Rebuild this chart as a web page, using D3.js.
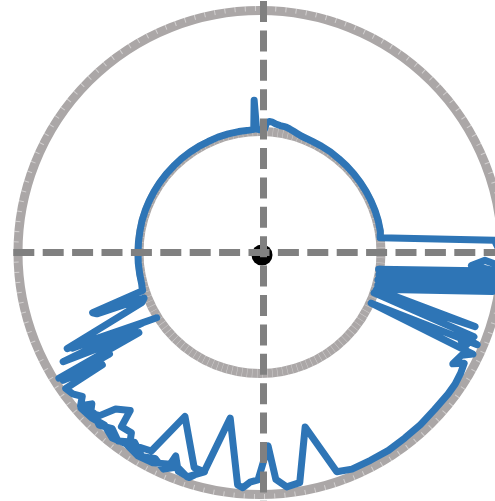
<!DOCTYPE html>
<html>
<head>
<meta charset="utf-8">
<script src="https://cdn.jsdelivr.net/npm/d3@7"></script>
<style>
  html, body { margin: 0; padding: 0; background: #fff; overflow: hidden; }
  svg { display: block; }
</style>
</head>
<body>
<svg id="chart" width="495" height="501"></svg>
<script>
// Scan bearings (degrees, counter-clockwise from east) and measured ranges (m)
const thetaDeg = [
  1.0, 3.0, 7.0, 10, 15, 20, 25, 30, 35, 40, 45, 50, 55, 60, 65, 70,
  72.5, 74.5, 76.5, 78.5, 81, 83, 84.5, 86, 87.2, 87.9, 90, 91.6, 92.2, 92.9,
  95, 100, 105, 110, 115, 120, 125, 130, 135, 140, 145, 150, 155, 160, 165,
  170, 175, 180, 185, 190, 195, 196, 198, 199.8, 200.6, 201.5, 203, 206.5,
  212.3, 207, 211, 209, 213.5, 212, 214, 213, 215.5, 215, 217,
  219, 220.5, 222, 223.5, 225.5, 227.3, 230.6, 231.5, 234.5, 236, 238.5,
  241.3, 245.4, 253.0, 255.8,
  252, 249, 246, 243, 240, 236.5, 233, 230, 227, 224, 221,
  224.5, 228, 231.5, 235, 239, 243, 247, 247.5, 249.5, 252.5, 255.8, 259.8,
  264.5, 265.8, 267.5, 269.5, 272.4, 274, 276.5, 279.8, 284.5, 289.3,
  293, 298, 303, 308, 313, 318, 323, 326,
  329, 331.5, 330, 333, 334.5, 335.5, 337, 337.5, 335, 338.5, 340.5, 341,
  342.5, 350.5, 344.5, 352, 347, 353.5, 349.5, 354.5, 352, 355.5, 356.5,
  358, 357, 359
];
const rangeM = [
  1.97, 1.94, 1.00, 1.01, 1.012, 1.012, 1.012, 1.012, 1.012, 1.012, 1.012, 1.012, 1.015, 1.015, 1.015, 1.02,
  1.03, 1.04, 1.05, 1.06, 1.062, 1.07, 1.082, 1.085, 1.07, 1.02, 1.015, 1.02, 1.26, 1.02,
  1.015, 1.015, 1.015, 1.015, 1.012, 1.012, 1.012, 1.012, 1.01, 1.01, 1.01, 1.01, 1.01, 1.01, 1.01,
  1.008, 1.008, 1.008, 1.01, 1.01, 1.012, 1.015, 1.02, 1.47, 1.44, 1.03, 1.06, 1.78,
  1.01, 1.74, 1.13, 1.86, 1.20, 1.96, 1.50, 1.94, 1.60, 1.96, 1.94,
  1.89, 1.95, 1.87, 1.93, 1.89, 1.76, 1.69, 1.84, 1.83, 1.93, 1.89,
  1.87, 1.49, 1.86, 1.87,
  1.95, 1.90, 1.96, 1.91, 1.95, 1.88, 1.95, 1.90, 1.95, 1.91, 1.96,
  1.95, 1.92, 1.96, 1.93, 1.96, 1.95, 1.90, 1.82, 1.93, 1.95, 1.855, 1.39,
  1.93, 1.95, 1.90, 1.88, 1.60, 1.88, 1.95, 1.93, 1.49, 1.92,
  1.945, 1.945, 1.95, 1.945, 1.945, 1.94, 1.945, 1.945,
  1.935, 1.92, 1.84, 1.87, 1.95, 1.01, 1.95, 1.78, 1.86, 1.90, 1.00, 1.88,
  1.01, 1.95, 1.01, 1.95, 1.00, 1.95, 1.00, 1.96, 0.99, 1.95, 1.75,
  1.86, 1.97, 1.98
];
// Reference range rings (m)
const ringRanges = [1, 2];
const maxRange = 2;

const svg = d3.select("#chart");
const cx = 260, cy = 252.5;          // scan origin
const crossX = 263.5, crossY = 252.5; // sensor marker position

const r = d3.scaleLinear().domain([0, maxRange]).range([0, 242]);
const toAngle = d => (90 - d) * Math.PI / 180; // bearing -> d3 radial angle

const scan = thetaDeg.map((t, i) => ({ t, v: rangeM[i] }));

const g = svg.append("g").attr("transform", `translate(${cx},${cy})`);

// range rings
g.selectAll("circle.ring")
  .data(ringRanges)
  .join("circle")
  .attr("class", "ring")
  .attr("r", d => r(d))
  .attr("fill", "none")
  .attr("stroke", "#aba7a7")
  .attr("stroke-width", 9);

// faint tick marks on the rings
g.selectAll("circle.tick")
  .data(ringRanges)
  .join("circle")
  .attr("class", "tick")
  .attr("r", d => d === maxRange ? r(d) + 2 : r(d))
  .attr("pathLength", 150)
  .attr("fill", "none")
  .attr("stroke", "#ffffff")
  .attr("stroke-opacity", 0.45)
  .attr("stroke-width", d => d === maxRange ? 5 : 9)
  .attr("stroke-dasharray", "0.1 0.9");

// scan trace
const line = d3.lineRadial()
  .angle(d => toAngle(d.t))
  .radius(d => r(d.v))
  .curve(d3.curveLinear);

g.append("path")
  .datum(scan)
  .attr("d", line)
  .attr("fill", "none")
  .attr("stroke", "#2e75b6")
  .attr("stroke-width", 7)
  .attr("stroke-linejoin", "round")
  .attr("stroke-linecap", "round");

// sensor marker
svg.append("circle")
  .attr("cx", 262)
  .attr("cy", 255)
  .attr("r", 10.5)
  .attr("fill", "#000");

// dashed crosshair
const dash = "21 8.4";
svg.append("line")
  .attr("x1", 13.3).attr("x2", 495)
  .attr("y1", crossY).attr("y2", crossY)
  .attr("stroke", "#808080").attr("stroke-width", 7)
  .attr("stroke-dasharray", dash);
svg.append("line")
  .attr("x1", crossX).attr("x2", crossX)
  .attr("y1", 1).attr("y2", 501)
  .attr("stroke", "#808080").attr("stroke-width", 7)
  .attr("stroke-dasharray", dash);
</script>
</body>
</html>
